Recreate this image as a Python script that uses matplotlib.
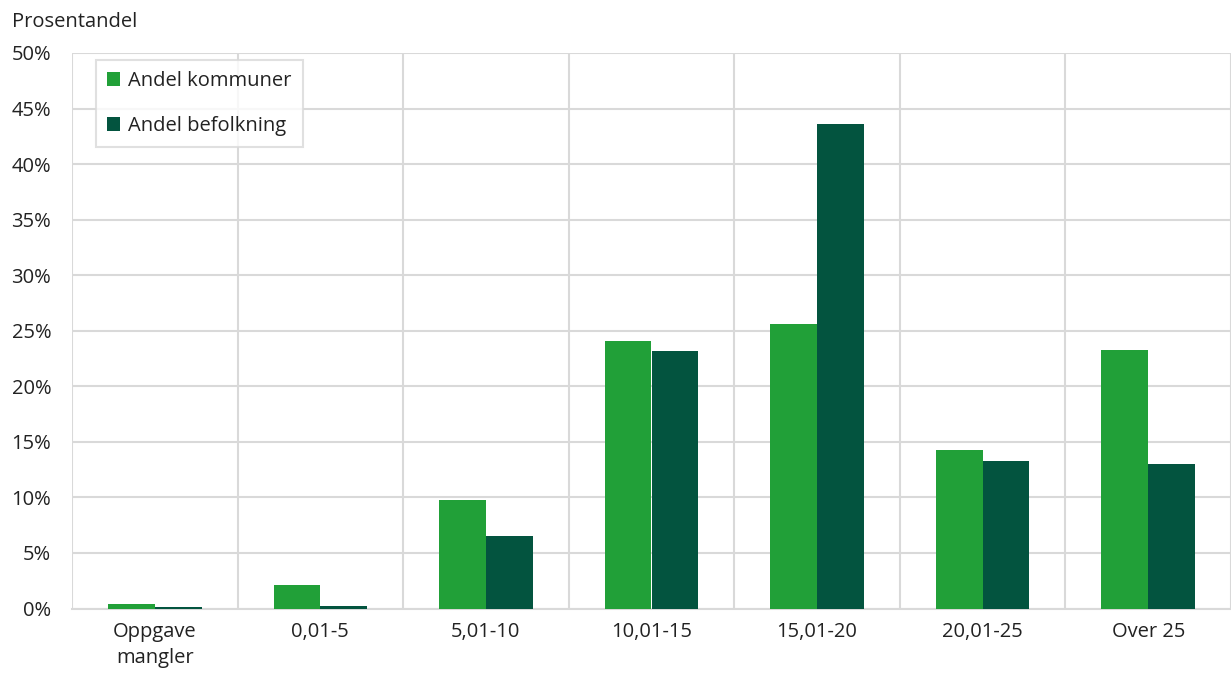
import numpy as np
import matplotlib.pyplot as plt
from matplotlib.ticker import FuncFormatter

plt.rcParams['font.family'] = ['Open Sans', 'DejaVu Sans']

categories = ['Oppgave\nmangler', '0,01-5', '5,01-10', '10,01-15', '15,01-20', '20,01-25', 'Over 25']
andel_kommuner = [0.4, 2.1, 9.8, 24.1, 25.6, 14.3, 23.3]
andel_befolkning = [0.1, 0.2, 6.5, 23.2, 43.6, 13.3, 13.0]

green = '#21A038'
dark = '#03543F'
grid = '#D9D9D9'
txt = '#222222'

fig = plt.figure(figsize=(12.31, 6.73), dpi=100)
ax = fig.add_axes([72/1231, 1-608.5/673, 1-72/1231, (608.5-53)/673])

x = np.arange(len(categories))
w = 0.283
ax.bar(x - w/2, andel_kommuner, w, color=green, label='Andel kommuner', zorder=3)
ax.bar(x + w/2, andel_befolkning, w, color=dark, label='Andel befolkning', zorder=3)

# categories are ~167 px apart, the last one is cut by the right edge
ax.set_ylim(0, 50)
ax.set_xlim(-0.5, -0.5 + 1159/167)
ax.set_yticks(np.arange(0, 51, 5))
ax.yaxis.set_major_formatter(FuncFormatter(lambda v, p: f'{v:.0f}%'))
ax.set_xticks(x)
ax.set_xticklabels(categories, fontsize=14.5, color=txt, linespacing=1.35)
ax.tick_params(axis='y', labelsize=14.5, colors=txt, length=0, pad=15)
ax.tick_params(axis='x', length=0, pad=10)

ax.grid(axis='y', color=grid, linewidth=1.5, zorder=0)
ax.set_xticks(np.arange(-0.5, 7, 1), minor=True)
ax.grid(axis='x', which='minor', color=grid, linewidth=1.5, zorder=0)
ax.tick_params(axis='x', which='minor', length=0)
for s in ['top', 'right', 'left']:
    ax.spines[s].set_visible(False)
ax.spines['bottom'].set_color(grid)
ax.spines['bottom'].set_linewidth(1.5)

leg = ax.legend(loc='upper left', bbox_to_anchor=(24/1159, 1-7/555.5), fontsize=14.5,
                frameon=True, fancybox=False, edgecolor=grid, handlelength=0.65,
                handleheight=0.65, handletextpad=0.4, labelspacing=1.25,
                borderpad=0.55, borderaxespad=0)
leg.get_frame().set_linewidth(1.5)
for t in leg.get_texts():
    t.set_color(txt)

fig.text(12/1231, 1-22/673, 'Prosentandel', fontsize=14.5, color=txt, va='center', ha='left')

fig.savefig('out.png', dpi=100)
